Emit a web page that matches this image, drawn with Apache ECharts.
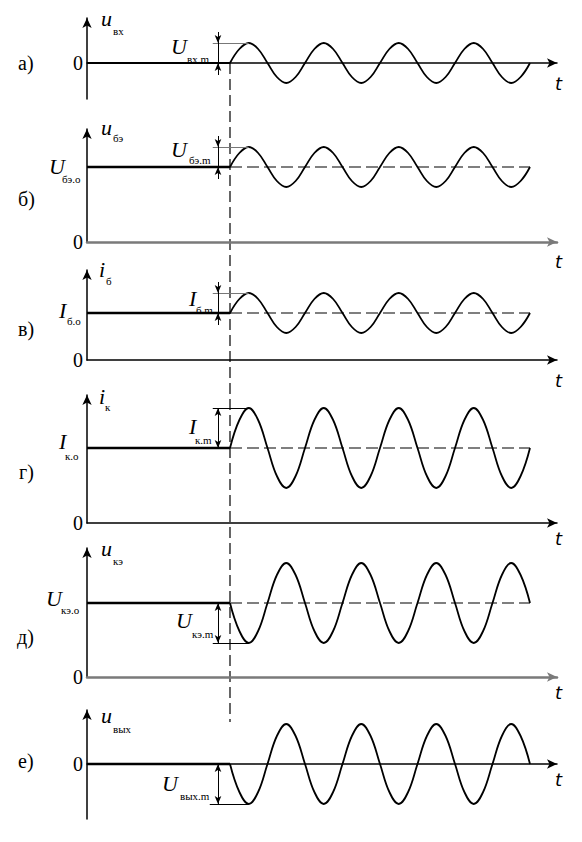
<!DOCTYPE html>
<html>
<head>
<meta charset="utf-8">
<script src="https://cdn.jsdelivr.net/npm/echarts@6/dist/echarts.min.js"></script>
<style>
html, body { margin: 0; padding: 0; background: #fff; }
#myChart { width: 582px; height: 842px; }
</style>
</head>
<body>
<div id="myChart"></div>
<script>
// time points one eighth of a period apart (four periods after the signal starts)
const eighthT = [0, 0.125, 0.25, 0.375, 0.5, 0.625, 0.75, 0.875,
  1, 1.125, 1.25, 1.375, 1.5, 1.625, 1.75, 1.875,
  2, 2.125, 2.25, 2.375, 2.5, 2.625, 2.75, 2.875,
  3, 3.125, 3.25, 3.375, 3.5, 3.625, 3.75, 3.875, 4]

const uVx = [0, 0.7, 1, 0.7, 0, -0.7, -1, -0.7,
  0, 0.7, 1, 0.7, 0, -0.7, -1, -0.7,
  0, 0.7, 1, 0.7, 0, -0.7, -1, -0.7,
  0, 0.7, 1, 0.7, 0, -0.7, -1, -0.7, 0]
const uBE = [3.75, 4.45, 4.75, 4.45, 3.75, 3.05, 2.75, 3.05,
  3.75, 4.45, 4.75, 4.45, 3.75, 3.05, 2.75, 3.05,
  3.75, 4.45, 4.75, 4.45, 3.75, 3.05, 2.75, 3.05,
  3.75, 4.45, 4.75, 4.45, 3.75, 3.05, 2.75, 3.05, 3.75]
const iB = [2.35, 3.05, 3.35, 3.05, 2.35, 1.65, 1.35, 1.65,
  2.35, 3.05, 3.35, 3.05, 2.35, 1.65, 1.35, 1.65,
  2.35, 3.05, 3.35, 3.05, 2.35, 1.65, 1.35, 1.65,
  2.35, 3.05, 3.35, 3.05, 2.35, 1.65, 1.35, 1.65, 2.35]
const iK = [3.75, 5.15, 5.75, 5.15, 3.75, 2.35, 1.75, 2.35,
  3.75, 5.15, 5.75, 5.15, 3.75, 2.35, 1.75, 2.35,
  3.75, 5.15, 5.75, 5.15, 3.75, 2.35, 1.75, 2.35,
  3.75, 5.15, 5.75, 5.15, 3.75, 2.35, 1.75, 2.35, 3.75]
const uKE = [3.7, 2.3, 1.7, 2.3, 3.7, 5.1, 5.7, 5.1,
  3.7, 2.3, 1.7, 2.3, 3.7, 5.1, 5.7, 5.1,
  3.7, 2.3, 1.7, 2.3, 3.7, 5.1, 5.7, 5.1,
  3.7, 2.3, 1.7, 2.3, 3.7, 5.1, 5.7, 5.1, 3.7]
const uVyx = [0, -1.4, -2, -1.4, 0, 1.4, 2, 1.4,
  0, -1.4, -2, -1.4, 0, 1.4, 2, 1.4,
  0, -1.4, -2, -1.4, 0, 1.4, 2, 1.4,
  0, -1.4, -2, -1.4, 0, 1.4, 2, 1.4, 0]

const signals = [uVx, uBE, iB, iK, uKE, uVyx]
const restLevels = [0, 3.75, 2.35, 3.75, 3.7, 0]
const swings = [1, 1, 1, 2, -2, -2]
const panelLabels = ['а)', 'б)', 'в)', 'г)', 'д)', 'е)']

// layout (pixels)
const pxPerUnit = 20
const pxPerPeriod = 75
const plotLeft = 87
const startX = 230
const axisEndX = 557
const tMin = (plotLeft - startX) / pxPerPeriod
const tMax = (axisEndX - startX) / pxPerPeriod
const frames = [
  { top: 18, zero: 63, bottom: 99, axisColor: '#000', axisWidth: 1.5 },
  { top: 129, zero: 242, bottom: 242, axisColor: '#7a7a7a', axisWidth: 2.5 },
  { top: 270, zero: 360, bottom: 360, axisColor: '#000', axisWidth: 1.5 },
  { top: 395, zero: 523, bottom: 523, axisColor: '#000', axisWidth: 1.5 },
  { top: 548, zero: 677, bottom: 677, axisColor: '#7a7a7a', axisWidth: 2.5 },
  { top: 710, zero: 764, bottom: 819, axisColor: '#000', axisWidth: 1.5 }
]
const arrowT = -0.16
const refT0 = -0.23

const serif = '"Liberation Serif", "DejaVu Serif", serif'
const texts = [
  // [text, x, y, kind]
  ['u', 101, 18, 'big'], ['вх', 113, 31, 'sub'], ['U', 171, 46, 'big'], ['вх.m', 187, 59, 'sub'], ['t', 555, 83, 't'],
  ['u', 101, 127, 'big'], ['бэ', 113, 138, 'sub'], ['U', 171, 149, 'big'], ['бэ.m', 189, 160, 'sub'],
  ['U', 49, 166, 'big'], ['бэ.о', 62, 179, 'sub'], ['t', 555, 261, 't'],
  ['i', 99, 269, 'big'], ['б', 106, 281, 'sub'], ['I', 189, 298, 'big'], ['б.m', 196, 310, 'sub'],
  ['I', 59, 310, 'big'], ['б.о', 67, 321, 'sub'], ['t', 555, 380, 't'],
  ['i', 99, 396, 'big'], ['к', 105, 407, 'sub'], ['I', 189, 426, 'big'], ['к.m', 195, 440, 'sub'],
  ['I', 59, 441, 'big'], ['к.о', 65, 456, 'sub'], ['t', 555, 538, 't'],
  ['u', 101, 548, 'big'], ['кэ', 113, 561, 'sub'], ['U', 46, 598, 'big'], ['кэ.о', 61, 610, 'sub'],
  ['U', 176, 620, 'big'], ['кэ.m', 192, 634, 'sub'], ['t', 555, 692, 't'],
  ['u', 101, 715, 'big'], ['вых', 113, 729, 'sub'], ['U', 162, 783, 'big'], ['вых.m', 180, 796, 'sub'], ['t', 555, 779, 't']
]
const labelPos = [[18, 63], [18, 199], [18, 329], [19, 472], [17, 637], [18, 761]]
const fonts = {
  label: '20px ' + serif,
  big: 'italic 22px ' + serif,
  sub: '11px ' + serif,
  t: 'italic 18px "DejaVu Sans", sans-serif'
}

function seg (x1, y1, x2, y2, startSym, endSym, color) {
  let ls = { color: color || '#000', width: 1, type: 'solid' }
  return [
    { coord: [x1, y1], symbol: startSym || 'none', lineStyle: ls },
    { coord: [x2, y2], symbol: endSym || 'none', lineStyle: ls }
  ]
}

function annotations (i) {
  let lv = restLevels[i]
  let a = swings[i]
  let extremeT = 0.25
  if (i < 3) {
    return [
      seg(refT0, lv + a, extremeT, lv + a, 'none', 'none', '#777'),
      seg(arrowT, lv + a + 0.55, arrowT, lv + a, 'none', 'arrow'),
      seg(arrowT, lv - 0.6, arrowT, lv, 'none', 'arrow'),
      seg(arrowT, lv + a, arrowT, lv)
    ]
  }
  return [
    seg(i === 5 ? -0.27 : refT0, lv + a, extremeT, lv + a),
    seg(arrowT, lv, arrowT, lv + a, 'arrow', 'arrow')
  ]
}

let grids = []
let xAxes = []
let yAxes = []
let series = []
frames.forEach((f, i) => {
  grids.push({ left: plotLeft, width: axisEndX - plotLeft, top: f.top, height: f.bottom - f.top })
  xAxes.push({
    type: 'value', gridIndex: i, min: tMin, max: tMax,
    axisLine: { show: true, onZero: true, symbol: ['none', 'arrow'], symbolSize: [7, 10], lineStyle: { color: f.axisColor, width: f.axisWidth } },
    axisTick: { show: false }, axisLabel: { show: false }, splitLine: { show: false }
  })
  yAxes.push({
    type: 'value', gridIndex: i,
    min: -(f.bottom - f.zero) / pxPerUnit, max: (f.zero - f.top) / pxPerUnit,
    axisLine: { show: true, onZero: false, symbol: ['none', 'arrow'], symbolSize: [7, 10], lineStyle: { color: '#000', width: 1.5 } },
    axisTick: { show: false },
    axisLabel: { show: true, customValues: [0], formatter: v => (Math.abs(v) < 1e-9 ? '0' : ''), color: '#000', fontFamily: serif, fontSize: 20, margin: 4 },
    splitLine: { show: false }
  })
  series.push({
    type: 'line', xAxisIndex: i, yAxisIndex: i, showSymbol: false, silent: true,
    data: [[tMin, restLevels[i]], [0, restLevels[i]]],
    lineStyle: { color: '#000', width: (i === 0 ? 1.8 : 2.4) }
  })
  if (i > 0 && i < 5) {
    series.push({
      type: 'line', xAxisIndex: i, yAxisIndex: i, showSymbol: false, silent: true,
      data: [[0, restLevels[i]], [eighthT[eighthT.length - 1], restLevels[i]]],
      lineStyle: { color: '#000', width: 1.2, type: [12, 5] }
    })
  }
  series.push({
    type: 'line', xAxisIndex: i, yAxisIndex: i, showSymbol: false, silent: true, smooth: 0.4,
    data: eighthT.map((t, k) => [t, signals[i][k]]),
    lineStyle: { color: '#000', width: 1.8 },
    markLine: {
      silent: true, animation: false, symbolSize: [5, 8],
      label: { show: false }, emphasis: { disabled: true },
      data: annotations(i)
    }
  })
})

let graphics = texts.map(tx => ({
  type: 'text', x: tx[1], y: tx[2], silent: true,
  style: { text: tx[0], font: fonts[tx[3]], fill: '#000', align: 'left', verticalAlign: 'middle' }
}))
panelLabels.forEach((lb, i) => {
  graphics.push({
    type: 'text', x: labelPos[i][0], y: labelPos[i][1], silent: true,
    style: { text: lb, font: fonts.label, fill: '#000', align: 'left', verticalAlign: 'middle' }
  })
})

let myChart = echarts.init(document.getElementById('myChart'), null, { renderer: 'svg' })
myChart.setOption({
  animation: false,
  grid: grids,
  xAxis: xAxes,
  yAxis: yAxes,
  series: series,
  graphic: graphics
})

// dashed marker of the signal start running through all panels
let pTop = myChart.convertToPixel({ gridIndex: 0 }, [0, 0])
let pBottom = myChart.convertToPixel({ gridIndex: 5 }, [0, 2.1])
graphics.push({
  type: 'line', silent: true,
  shape: { x1: pTop[0], y1: pTop[1], x2: pBottom[0], y2: pBottom[1] },
  style: { stroke: '#000', lineWidth: 1.2, lineDash: [11, 5] }
})
myChart.setOption({ graphic: graphics })
</script>
</body>
</html>
